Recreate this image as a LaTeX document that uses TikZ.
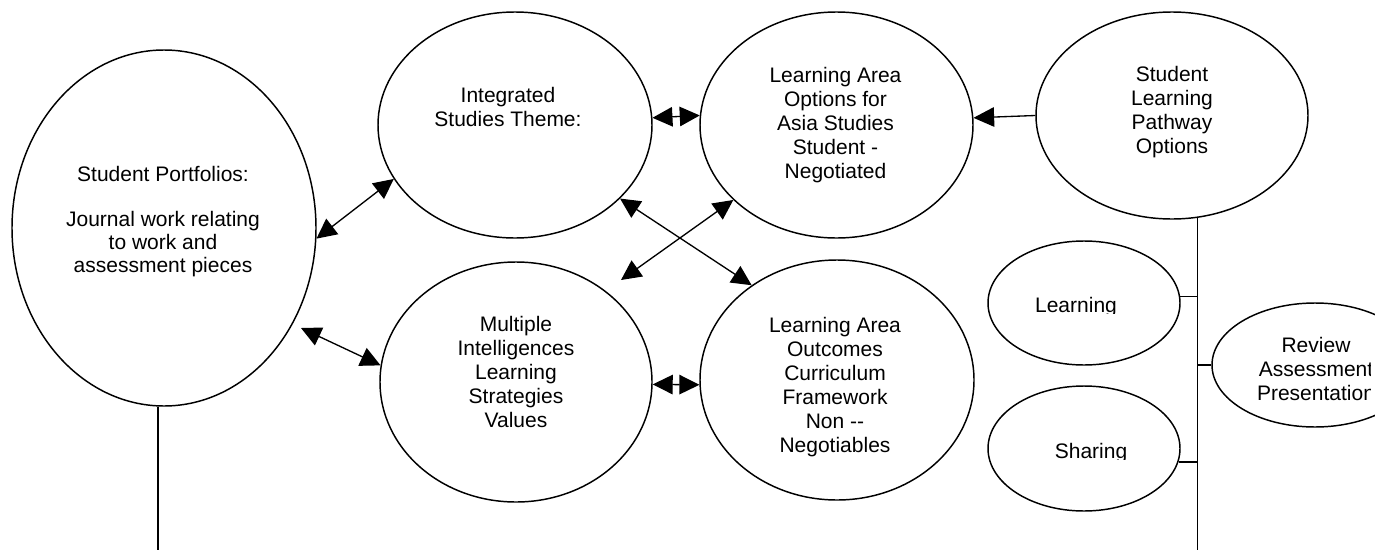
\documentclass[tikz,border=0pt]{standalone}
\usepackage{fontspec}
\setmainfont{Liberation Sans}
\usetikzlibrary{shapes.geometric,arrows.meta}
\def\upx{0.75pt}
\begin{document}
\begin{tikzpicture}[x=0.75pt,y=-0.75pt,
  oval/.style 2 args={draw, ellipse, line width=1.1pt, inner sep=0pt,
    minimum width=#1*\upx, minimum height=#2*\upx},
  label text/.style={align=center, inner sep=0pt,
    font=\fontsize{15.75pt}{18pt}\selectfont},
  wire/.style={line width=1.1pt},
  twoway/.style={line width=1pt,
    {Triangle[length=15pt,width=14.6pt]}-{Triangle[length=15pt,width=14.6pt]}},
  oneway/.style={line width=1pt, -{Triangle[length=15.5pt,width=14.6pt]}}]
\useasboundingbox (0,0) rectangle (1375,550);
\clip (0,0) rectangle (1375,550);

% ellipses
\node[oval={304}{356}] (port) at (164,228) {};
\node[oval={274}{226}] (integ) at (515,125) {};
\node[oval={273}{226}] (lao1) at (836.5,125) {};
\node[oval={272}{207}] (slp) at (1172,115.5) {};
\node[oval={272}{240}] (mi) at (516,382) {};
\node[oval={274}{240}] (lao2) at (837,380) {};
\node[oval={192}{124}] (learn) at (1084,303) {};
\node[oval={192}{125}] (share) at (1084,448.5) {};
\node[oval={206}{124}] (review) at (1315,365) {};

% texts
\node[label text, font=\fontsize{15.75pt}{17.2pt}\selectfont] (tport) at (163,221.5)
  {Student Portfolios:\\ ~ \\Journal work relating\\to work and\\assessment pieces};
\node[label text] (tinteg) at (508,106.5) {Integrated\\Studies Theme:};
\node[label text] (tlao1) at (835.5,125) {Learning Area\\Options for\\Asia Studies\\Student -\\Negotiated};
\node[label text] (tslp) at (1172,112.5) {Student\\Learning\\Pathway\\Options};
\node[label text] (tmi) at (516,372) {Multiple\\Intelligences\\Learning\\Strategies\\Values};
\node[label text] (tlao2) at (835,387) {Learning Area\\Outcomes\\Curriculum\\Framework\\Non -{}-\\Negotiables};
\begin{scope}
  \clip (1220,320) rectangle (1370.5,420);
  \node[label text] (treview) at (1316,368.5) {Review\\Assessment\\Presentation};
\end{scope}
\begin{scope}
  \clip (990,250) rectangle (1175,313);
  \node[label text, anchor=base] (tlearn) at (1076,312) {Learning};
\end{scope}
\begin{scope}
  \clip (990,400) rectangle (1175,459.3);
  \node[label text, anchor=base] (tshare) at (1091,458.3) {Sharing};
\end{scope}

% arrows
\coordinate (pB) at (301,328);
\coordinate (xB) at (621,280);
\draw[twoway] (port.-4.5) -- (integ.204.2);
\draw[twoway] (pB) -- (mi.173.7);
\draw[twoway] (integ.3.3) -- (lao1.176.7);
\draw[oneway] (slp.180) -- (lao1.3.6);
\draw[twoway] (mi.-1.7) -- (lao2.182.9);
\draw[twoway] (integ.-35.3) -- (lao2.132.4);
\draw[twoway] (lao1.-144.7) -- (xB);

% spine lines
\coordinate (floor) at (0,550);
\coordinate (spinetop) at (slp.-76.2);
\draw[wire] (spinetop) -- (spinetop |- floor);
\draw[wire] (learn.4.8) -- (learn.4.8 -| spinetop);
\draw[wire] (share.-8.6) -- (share.-8.6 -| spinetop);
\draw[wire] (review.west) -- (review.west -| spinetop);
\draw[wire] (port.-92.6) -- (port.-92.6 |- floor);
\end{tikzpicture}
\end{document}
